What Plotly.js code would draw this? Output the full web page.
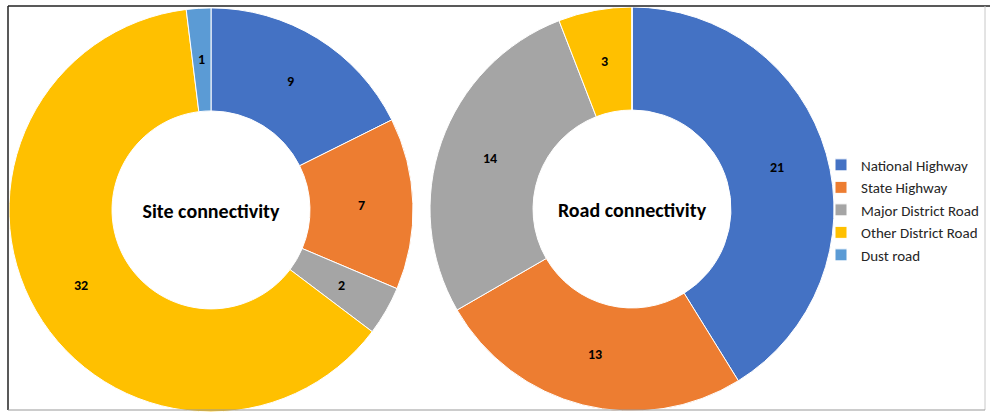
<!DOCTYPE html>
<html><head><meta charset="utf-8">
<script src="https://cdn.plot.ly/plotly-3.0.1.min.js"></script>
<style>html,body{margin:0;padding:0;background:#fff;}#chart{width:991px;height:412px;}</style>
</head><body><div id="chart"></div>
<script>
const categories = ["National Highway", "State Highway", "Major District Road", "Other District Road", "Dust road"];
const siteValues = [9, 7, 2, 32, 1];
const roadValues = [21, 13, 14, 3, 0];
const chartTitles = ["Site connectivity", "Road connectivity"];
const colors = ["#4472C4", "#ED7D31", "#A5A5A5", "#FFC000", "#5B9BD5"];

const font = "Calibri, Carlito, Lato, 'Open Sans', sans-serif";
const W = 991, H = 412, HOLE = 0.49;
const domains = [
  {x: [9/W, 413/W], y: [0, 0.981]},
  {x: [430/W, 834/W], y: [0.0024, 0.983]}
];

function pieTrace(values, title, domain) {
  return {
    type: "pie",
    labels: categories,
    values: values,
    sort: false,
    direction: "clockwise",
    rotation: 0,
    hole: HOLE,
    domain: domain,
    marker: {colors: colors, line: {color: "#ffffff", width: 1}},
    textinfo: "none",
    title: {text: "<b>" + title + "</b>", position: "middle center", font: {family: font, size: 20, color: "#000000"}},
    hoverinfo: "label+value"
  };
}

// Data labels at the middle of the ring, at each slice's mid angle (like the original)
function ringLabels(values, domain) {
  const total = values.reduce((a, b) => a + b, 0);
  const cx = (domain.x[0] + domain.x[1]) / 2 * W;
  const cy = (domain.y[0] + domain.y[1]) / 2 * H;
  const R = Math.min((domain.x[1] - domain.x[0]) * W, (domain.y[1] - domain.y[0]) * H) / 2;
  const rMid = R * (1 + HOLE) / 2;
  const out = [];
  let cum = 0;
  values.forEach(v => {
    const mid = (cum + v / 2) / total * 2 * Math.PI;
    cum += v;
    if (v <= 0) return;
    out.push({
      xref: "paper", yref: "paper",
      x: (cx + rMid * Math.sin(mid)) / W,
      y: (cy + rMid * Math.cos(mid)) / H,
      text: "<b>" + v + "</b>", showarrow: false,
      xanchor: "center", yanchor: "middle",
      font: {family: font, size: 14, color: "#000000"}
    });
  });
  return out;
}

const data = [
  pieTrace(siteValues, chartTitles[0], domains[0]),
  pieTrace(roadValues, chartTitles[1], domains[1])
];

const layout = {
  width: W, height: H,
  margin: {l: 0, r: 0, t: 0, b: 0},
  paper_bgcolor: "#ffffff",
  showlegend: true,
  legend: {x: 821/W, y: 0.49, xanchor: "left", yanchor: "middle", bgcolor: "rgba(0,0,0,0)",
           font: {family: font, size: 15, color: "#262626"}, itemwidth: 30, tracegroupgap: 0},
  annotations: ringLabels(siteValues, domains[0]).concat(ringLabels(roadValues, domains[1])),
  shapes: [
    {type: "line", xref: "paper", yref: "paper", x0: 8/W, x1: 990/W, y0: 1 - 6/H, y1: 1 - 6/H, line: {color: "#222222", width: 1.5}},
    {type: "line", xref: "paper", yref: "paper", x0: 8/W, x1: 8/W, y0: 1 - 6/H, y1: 1 - 410/H, line: {color: "#222222", width: 1.5}},
    {type: "line", xref: "paper", yref: "paper", x0: 985/W, x1: 985/W, y0: 1 - 6/H, y1: 1 - 410/H, line: {color: "#c8c8c8", width: 1}},
    {type: "line", xref: "paper", yref: "paper", x0: 8/W, x1: 985/W, y0: 1 - 410/H, y1: 1 - 410/H, line: {color: "#999999", width: 1}}
  ]
};

Plotly.newPlot("chart", data, layout, {displayModeBar: false, staticPlot: true});
</script>
</body></html>
